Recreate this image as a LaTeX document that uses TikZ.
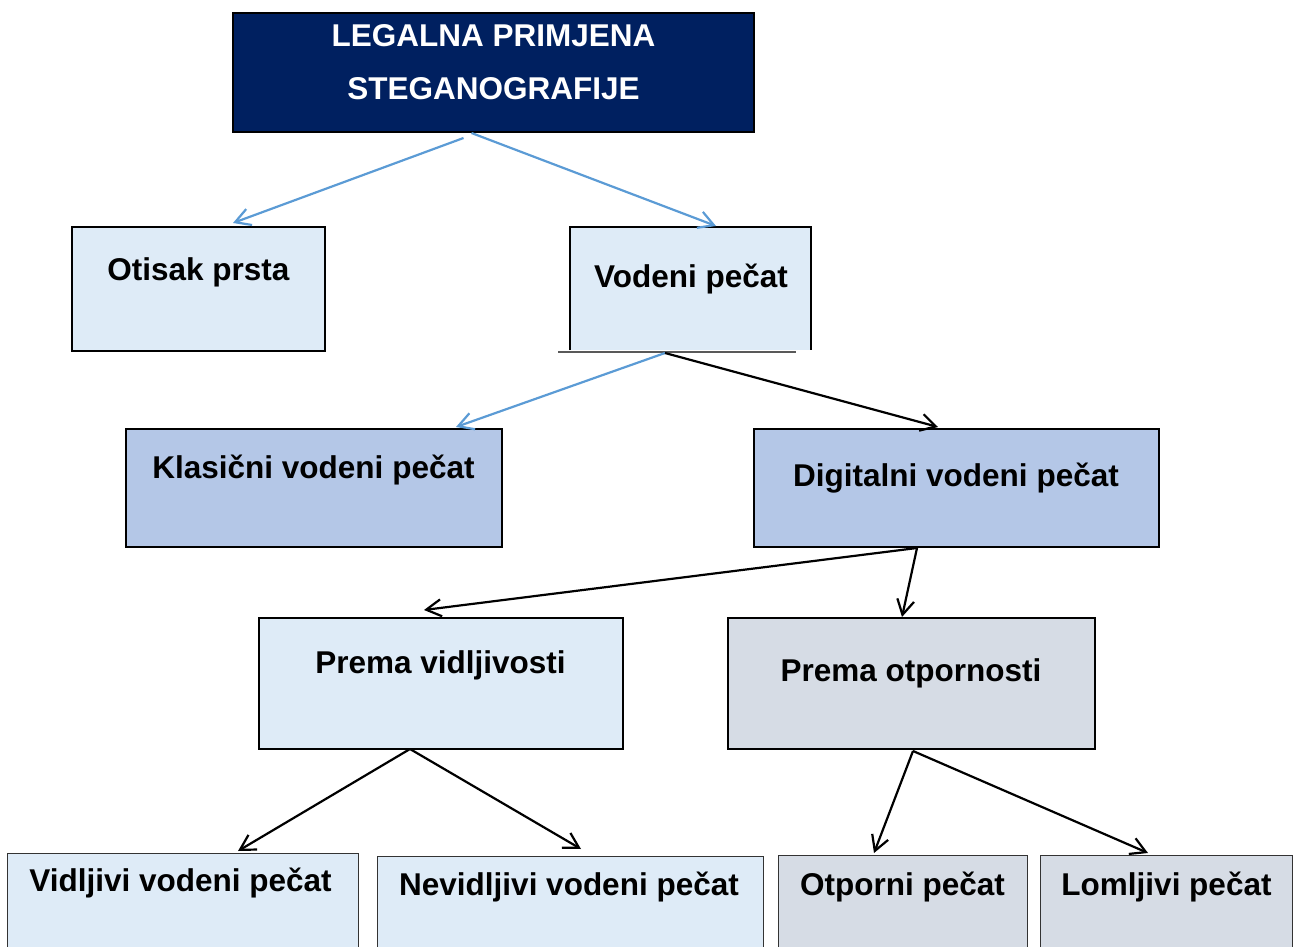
\documentclass[tikz,border=0pt]{standalone}
\usepackage{fontspec}
\setmainfont{Liberation Sans}
\usetikzlibrary{arrows.meta}
\definecolor{navy}{RGB}{0,32,96}
\definecolor{lightblue}{RGB}{222,235,247}
\definecolor{midblue}{RGB}{180,199,231}
\definecolor{greyblue}{RGB}{214,220,229}
\definecolor{arrowblue}{RGB}{91,155,213}
\begin{document}
\begin{tikzpicture}[x=1pt,y=-1pt,
  box/.style={draw=black,line width=2pt,inner sep=0pt,outer sep=0pt},
  lowbox/.style={draw=black!80,line width=1pt,inner sep=0pt,outer sep=0pt},
  txt/.style={anchor=base,inner sep=0pt,font=\fontsize{31.5}{53}\selectfont\bfseries},
  barrow/.style={draw=arrowblue,line width=2.2pt,-{Straight Barb[length=15pt,width=17pt,line width=2.2pt]}},
  karrow/.style={draw=black,line width=2.2pt,-{Straight Barb[length=15pt,width=17pt,line width=2.2pt]}}]
\useasboundingbox (0,0) rectangle (1294,947);
\clip (0,0) rectangle (1294,947);
% boxes
\node[box,fill=navy,minimum width=521pt,minimum height=119pt] (top) at (493.5,72.5) {};
\node[box,fill=lightblue,minimum width=253pt,minimum height=124pt] (otisak) at (198.5,289) {};
\node[fill=lightblue,inner sep=0pt,outer sep=0pt,minimum width=241pt,minimum height=123pt] (vodeni) at (690.5,288.5) {};
\draw[line width=2pt] (vodeni.south west) -- (vodeni.north west) -- (vodeni.north east) -- (vodeni.south east);
\coordinate (vl) at (558,352);
\coordinate (vr) at (796,352);
\draw[line width=1.5pt,black!65] (vl) -- (vr);
\node[box,fill=midblue,minimum width=376pt,minimum height=118pt] (klas) at (314,488) {};
\node[box,fill=midblue,minimum width=405pt,minimum height=118pt] (digi) at (956.5,488) {};
\node[box,fill=lightblue,minimum width=364pt,minimum height=131pt] (vidlj) at (441,683.5) {};
\node[box,fill=greyblue,minimum width=367pt,minimum height=131pt] (otpor) at (911.5,683.5) {};
\node[lowbox,fill=lightblue,minimum width=351pt,minimum height=107pt] (vvp) at (182.5,906.5) {};
\node[lowbox,fill=lightblue,minimum width=386pt,minimum height=104pt] (nvp) at (570,908) {};
\node[lowbox,fill=greyblue,minimum width=249pt,minimum height=105pt] (op) at (902.5,907.5) {};
\node[lowbox,fill=greyblue,minimum width=252pt,minimum height=105pt] (lp) at (1166,907.5) {};
% texts
\node[txt,text=white] (t1) at (493.5,47) {LEGALNA PRIMJENA};
\node[txt,text=white] (t2) at (493.5,100) {STEGANOGRAFIJE};
\node[txt] (totisak) at (198.5,280) {Otisak prsta};
\node[txt] (tvodeni) at (691,287) {Vodeni pečat};
\node[txt] (tklas) at (313.5,478) {Klasični vodeni pečat};
\node[txt] (tdigi) at (956,486) {Digitalni vodeni pečat};
\node[txt] (tvidlj) at (440.5,673) {Prema vidljivosti};
\node[txt] (totpor) at (911,681) {Prema otpornosti};
\node[txt] (tvvp) at (180.5,891) {Vidljivi vodeni pečat};
\node[txt] (tnvp) at (569,895) {Nevidljivi vodeni pečat};
\node[txt] (top2) at (902.5,895) {Otporni pečat};
\node[txt] (tlp) at (1166.5,895) {Lomljivi pečat};
% connectors
\draw[barrow] ([xshift=-30pt,yshift=-6pt]top.south) -- ([xshift=34.5pt,yshift=4pt]otisak.north);
\draw[barrow] ([xshift=-22pt,yshift=-1pt]top.south) -- ([xshift=25.5pt,yshift=1pt]vodeni.north);
\draw[barrow] ([xshift=-25.5pt,yshift=-3pt]vodeni.south) -- ([xshift=142pt,yshift=2pt]klas.north);
\draw[karrow] ([xshift=-25.5pt,yshift=-3pt]vodeni.south) -- ([xshift=-18.5pt,yshift=2pt]digi.north);
\draw[karrow] ([xshift=-39.5pt,yshift=-1pt]digi.south) -- ([xshift=-17pt,yshift=8pt]vidlj.north);
\draw[karrow] ([xshift=-39.5pt,yshift=-1pt]digi.south) -- ([xshift=-9.5pt,yshift=1pt]otpor.north);
\draw[karrow] ([xshift=-31pt]vidlj.south) -- ([xshift=55.5pt,yshift=2pt]vvp.north);
\draw[karrow] ([xshift=-31pt]vidlj.south) -- ([xshift=11pt,yshift=7pt]nvp.north);
\draw[karrow] ([xshift=1.5pt,yshift=-2pt]otpor.south) -- ([xshift=-28.5pt,yshift=2pt]op.north);
\draw[karrow] ([xshift=1.5pt,yshift=-2pt]otpor.south) -- ([xshift=-18pt,yshift=2pt]lp.north);
\end{tikzpicture}
\end{document}
